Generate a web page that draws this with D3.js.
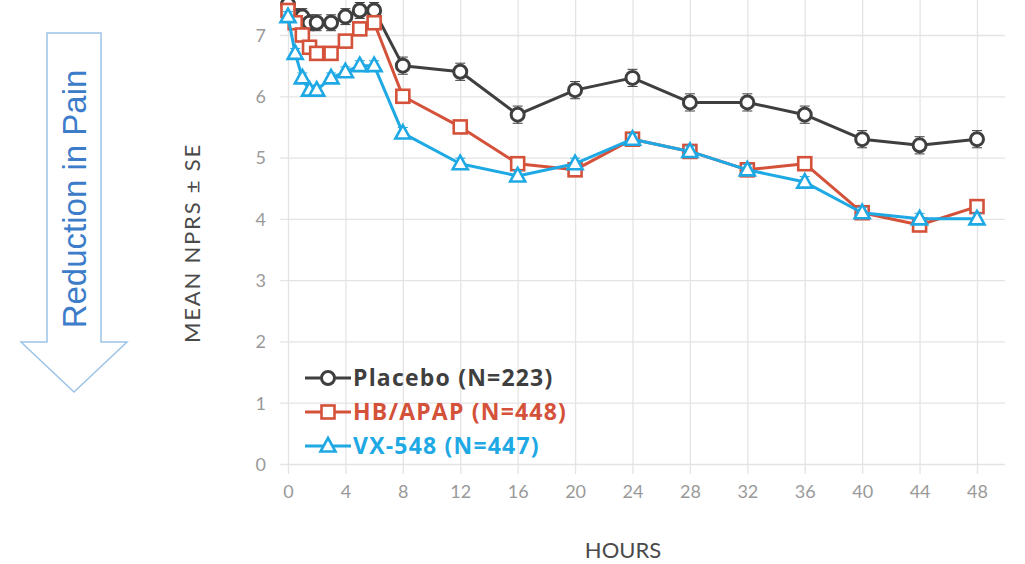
<!DOCTYPE html>
<html>
<head>
<meta charset="utf-8">
<script src="https://cdn.jsdelivr.net/npm/d3@7"></script>
<style>
  html, body { margin: 0; padding: 0; background: #fff; }
  svg { display: block; }
</style>
</head>
<body>
<svg id="chart" width="1025" height="564"></svg>
<script>
// Time points (hours) and mean NPRS per treatment group
const hours   = [0, 0.5, 1, 1.5, 2, 3, 4, 5, 6, 8, 12, 16, 20, 24, 28, 32, 36, 40, 44, 48];
const placebo = [7.5, 7.3, 7.3, 7.2, 7.2, 7.2, 7.3, 7.4, 7.4, 6.5, 6.4, 5.7, 6.1, 6.3, 5.9, 5.9, 5.7, 5.3, 5.2, 5.3];
const hbApap  = [7.4, 7.2, 7.0, 6.8, 6.7, 6.7, 6.9, 7.1, 7.2, 6.0, 5.5, 4.9, 4.8, 5.3, 5.1, 4.8, 4.9, 4.1, 3.9, 4.2];
const vx548   = [7.3, 6.7, 6.3, 6.1, 6.1, 6.3, 6.4, 6.5, 6.5, 5.4, 4.9, 4.7, 4.9, 5.3, 5.1, 4.8, 4.6, 4.1, 4.0, 4.0];
// Standard errors
const placeboSE = [0.13, 0.13, 0.13, 0.13, 0.13, 0.13, 0.13, 0.13, 0.13, 0.14, 0.14, 0.14, 0.14, 0.14, 0.14, 0.14, 0.14, 0.14, 0.14, 0.14];
const hbApapSE  = [0.08, 0.08, 0.08, 0.08, 0.08, 0.08, 0.08, 0.08, 0.08, 0.09, 0.09, 0.09, 0.09, 0.09, 0.09, 0.09, 0.09, 0.09, 0.09, 0.09];
const vx548SE   = [0.08, 0.08, 0.08, 0.08, 0.08, 0.08, 0.08, 0.08, 0.08, 0.09, 0.09, 0.09, 0.09, 0.09, 0.09, 0.09, 0.09, 0.09, 0.09, 0.09];

const xTicks = [0, 4, 8, 12, 16, 20, 24, 28, 32, 36, 40, 44, 48];
const yTicks = [0, 1, 2, 3, 4, 5, 6, 7, 8];

const seriesNames  = ["Placebo (N=223)", "HB/APAP (N=448)", "VX-548 (N=447)"];
const seriesColors = ["#3f3f3f", "#d4513a", "#1fa9e4"];
const seriesShapes = ["circle", "square", "triangle"];

const series = [
  { name: seriesNames[0], values: placebo, se: placeboSE, color: seriesColors[0], shape: seriesShapes[0] },
  { name: seriesNames[1], values: hbApap,  se: hbApapSE,  color: seriesColors[1], shape: seriesShapes[1] },
  { name: seriesNames[2], values: vx548,   se: vx548SE,   color: seriesColors[2], shape: seriesShapes[2] }
];

const svg = d3.select("#chart");

const x = d3.scaleLinear().domain([0, 48]).range([288, 977]);
const y = d3.scaleLinear().domain([0, 7]).range([464, 35]);

const gridColor = "#e4e4e4";

// Horizontal gridlines
svg.append("g")
  .attr("transform", `translate(280,0)`)
  .call(d3.axisLeft(y).tickValues(yTicks).tickSize(-725).tickFormat(""))
  .call(g => g.select(".domain").remove())
  .call(g => g.selectAll("line").attr("stroke", gridColor).attr("stroke-width", 1.3));

// Vertical gridlines
svg.append("g")
  .attr("transform", `translate(0,474)`)
  .call(d3.axisBottom(x).tickValues(xTicks).tickSize(-500).tickFormat(""))
  .call(g => g.select(".domain").remove())
  .call(g => g.selectAll("line").attr("stroke", gridColor).attr("stroke-width", 1.3));

// Y tick labels
svg.append("g")
  .attr("transform", `translate(266,0)`)
  .call(d3.axisLeft(y).tickValues(yTicks.slice(0, 8)).tickSize(0).tickPadding(0).tickFormat(d3.format("d")))
  .call(g => g.select(".domain").remove())
  .call(g => g.selectAll("text")
    .attr("fill", "#9a9a9a")
    .attr("font-family", "Lato, 'Open Sans', sans-serif")
    .attr("font-size", 18)
    .attr("dy", "0.35em"));

// X tick labels
svg.append("g")
  .attr("transform", `translate(0,485)`)
  .call(d3.axisBottom(x).tickValues(xTicks).tickSize(0).tickPadding(0).tickFormat(d3.format("d")))
  .call(g => g.select(".domain").remove())
  .call(g => g.selectAll("text")
    .attr("fill", "#9a9a9a")
    .attr("font-family", "Lato, 'Open Sans', sans-serif")
    .attr("font-size", 18)
    .attr("dy", "0.71em"));

// Axis titles
svg.append("text")
  .attr("x", 623).attr("y", 558)
  .attr("text-anchor", "middle")
  .attr("fill", "#4a4a4a")
  .attr("font-family", "Lato, 'Open Sans', sans-serif")
  .attr("font-size", 22)
  .text("HOURS");

svg.append("text")
  .attr("transform", "translate(200,243) rotate(-90)")
  .attr("text-anchor", "middle")
  .attr("fill", "#4a4a4a")
  .attr("font-family", "Lato, 'Open Sans', sans-serif")
  .attr("font-size", 22)
  .attr("letter-spacing", 1.8)
  .text("MEAN NPRS ± SE");

// "Reduction in Pain" arrow
const arrow = d3.path();
arrow.moveTo(47, 33);
arrow.lineTo(101, 33);
arrow.lineTo(101, 342);
arrow.lineTo(127, 342);
arrow.lineTo(74, 392);
arrow.lineTo(21, 342);
arrow.lineTo(47, 342);
arrow.closePath();
svg.append("path")
  .attr("d", arrow.toString())
  .attr("fill", "#fff")
  .attr("stroke", "#9cc4e8")
  .attr("stroke-width", 1.5);

svg.append("text")
  .attr("transform", "translate(86,199) rotate(-90)")
  .attr("text-anchor", "middle")
  .attr("fill", "#3c7cc8")
  .attr("font-family", "'Liberation Sans', Arial, sans-serif")
  .attr("font-size", 33)
  .text("Reduction in Pain");

// Marker drawing
function drawMarker(sel, shape, color) {
  if (shape === "circle") {
    sel.append("circle").attr("r", 6.5)
      .attr("fill", "#fff").attr("stroke", color).attr("stroke-width", 3);
  } else if (shape === "square") {
    sel.append("rect").attr("x", -6.5).attr("y", -6.5).attr("width", 13).attr("height", 13)
      .attr("fill", "#fff").attr("stroke", color).attr("stroke-width", 2.6);
  } else {
    sel.append("path").attr("d", "M0,-8 L7.5,5.5 L-7.5,5.5 Z")
      .attr("fill", "#fff").attr("stroke", color).attr("stroke-width", 2.6)
      .attr("stroke-linejoin", "miter");
  }
}

const line = d3.line().x(d => x(d.h)).y(d => y(d.v));

series.forEach(s => {
  const pts = hours.map((h, i) => ({ h, v: s.values[i], se: s.se[i] }));
  const g = svg.append("g");

  // error bars
  const eb = g.selectAll(".eb").data(pts).join("g").attr("class", "eb");
  eb.append("line")
    .attr("x1", d => x(d.h)).attr("x2", d => x(d.h))
    .attr("y1", d => y(d.v + d.se)).attr("y2", d => y(d.v - d.se))
    .attr("stroke", s.color).attr("stroke-width", 1);
  [1, -1].forEach(sign => {
    eb.append("line")
      .attr("x1", d => x(d.h) - 5).attr("x2", d => x(d.h) + 5)
      .attr("y1", d => y(d.v + sign * d.se)).attr("y2", d => y(d.v + sign * d.se))
      .attr("stroke", s.color).attr("stroke-width", 1);
  });

  g.append("path")
    .datum(pts)
    .attr("d", line)
    .attr("fill", "none")
    .attr("stroke", s.color)
    .attr("stroke-width", 3)
    .attr("stroke-linejoin", "round");

  g.selectAll(".mk").data(pts).join("g")
    .attr("class", "mk")
    .attr("transform", d => `translate(${x(d.h)},${y(d.v)})`)
    .each(function () { drawMarker(d3.select(this), s.shape, s.color); });
});

// Legend
const legend = svg.append("g");
series.forEach((s, i) => {
  const row = legend.append("g").attr("transform", `translate(305,${378 + i * 34})`);
  row.append("line").attr("x1", 0).attr("x2", 46).attr("y1", 0).attr("y2", 0)
    .attr("stroke", s.color).attr("stroke-width", 3);
  const m = row.append("g").attr("transform", "translate(23,0)");
  drawMarker(m, s.shape, s.color);
  row.append("text")
    .attr("x", 48).attr("y", 0).attr("dy", "0.36em")
    .attr("fill", s.color)
    .attr("font-family", "'Open Sans', sans-serif")
    .attr("font-weight", "bold")
    .attr("font-size", 23)
    .attr("letter-spacing", 1.2)
    .text(s.name);
});
</script>
</body>
</html>
